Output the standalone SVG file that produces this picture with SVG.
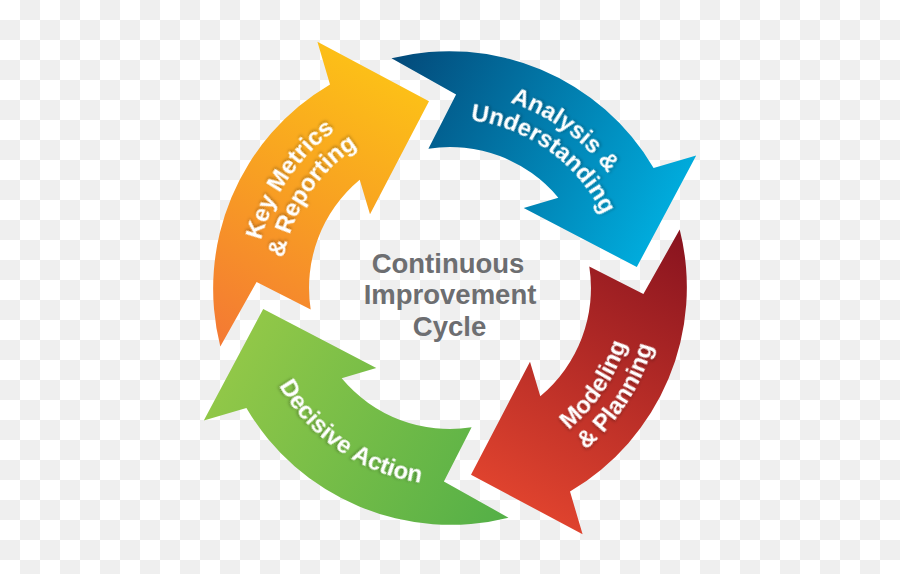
<svg xmlns="http://www.w3.org/2000/svg" xmlns:xlink="http://www.w3.org/1999/xlink" width="900" height="574" viewBox="0 0 900 574">
  <defs>
    <pattern id="checker" width="40" height="40" patternUnits="userSpaceOnUse">
      <rect width="40" height="40" fill="#ffffff"/>
      <rect x="20" y="0" width="20" height="20" fill="#efefef"/>
      <rect x="0" y="20" width="20" height="20" fill="#efefef"/>
    </pattern>
    <path id="arrow" d="M 220.3 346.5 A 237 237 0 0 1 330 84.4 L 317.4 41.8 L 429 101.2 L 370 214.3 L 359.7 179.7 A 141 141 0 0 0 310.7 309.6 L 256.6 281.9 Z"/>
    <linearGradient id="gOrange" gradientUnits="userSpaceOnUse" x1="240" y1="350" x2="400" y2="60">
      <stop offset="0" stop-color="#f47a33"/>
      <stop offset="0.5" stop-color="#f8a022"/>
      <stop offset="1" stop-color="#fdc416"/>
    </linearGradient>
    <linearGradient id="gBlue" gradientUnits="userSpaceOnUse" x1="240" y1="350" x2="400" y2="60">
      <stop offset="0" stop-color="#034b7b"/>
      <stop offset="1" stop-color="#00b2e3"/>
    </linearGradient>
    <linearGradient id="gRed" gradientUnits="userSpaceOnUse" x1="240" y1="350" x2="400" y2="60">
      <stop offset="0" stop-color="#8a141f"/>
      <stop offset="1" stop-color="#e5462f"/>
    </linearGradient>
    <linearGradient id="gGreen" gradientUnits="userSpaceOnUse" x1="240" y1="350" x2="400" y2="60">
      <stop offset="0" stop-color="#55b047"/>
      <stop offset="1" stop-color="#95c948"/>
    </linearGradient>
    <path id="cw195" d="M 516.7 104.8 A 195 195 0 0 1 516.7 471.2"/>
    <path id="cw169" d="M 507.8 129.2 A 169 169 0 0 1 507.8 446.8"/>
    <path id="ccw185" d="M 513.3 461.8 A 185 185 0 0 0 513.3 114.2"/>
    <path id="ccw211" d="M 522.2 486.3 A 211 211 0 0 0 522.2 89.7"/>
    <path id="ccw197" d="M 517.4 473.1 A 197 197 0 0 0 517.4 102.9"/>
    <filter id="shadow" x="-20%" y="-20%" width="140%" height="140%">
      <feDropShadow dx="1" dy="1.5" stdDeviation="1.8" flood-color="#000" flood-opacity="0.3"/>
    </filter>
    <style>
      .lbl { font-family: "Liberation Sans", Arial, sans-serif; font-weight: bold; font-size: 24px; fill: #ffffff; filter: url(#shadow); }
      .title { font-family: "Liberation Sans", Arial, sans-serif; font-weight: bold; font-size: 27.5px; fill: #6d6e71; text-anchor: middle; }
    </style>
  </defs>

  <rect width="900" height="574" fill="url(#checker)"/>

  <g id="key-metrics-reporting">
    <use href="#arrow" fill="url(#gOrange)"/>
    <text class="lbl" transform="rotate(214 450 288)"><textPath href="#cw195" startOffset="50%" text-anchor="middle">Key Metrics</textPath></text>
    <text class="lbl" transform="rotate(213.5 450 288)"><textPath href="#cw169" startOffset="50%" text-anchor="middle">&amp; Reporting</textPath></text>
  </g>

  <g id="analysis-understanding">
    <use href="#arrow" transform="rotate(90 450 288)" fill="url(#gBlue)"/>
    <text class="lbl" transform="rotate(306 450 288)"><textPath href="#cw195" startOffset="50%" text-anchor="middle">Analysis &amp;</textPath></text>
    <text class="lbl" transform="rotate(305.7 450 288)"><textPath href="#cw169" startOffset="50%" text-anchor="middle">Understanding</textPath></text>
  </g>

  <g id="modeling-planning">
    <use href="#arrow" transform="rotate(180 450 288)" fill="url(#gRed)"/>
    <text class="lbl" transform="rotate(33.8 450 288)"><textPath href="#ccw185" startOffset="50%" text-anchor="middle">Modeling</textPath></text>
    <text class="lbl" transform="rotate(33 450 288)"><textPath href="#ccw211" startOffset="50%" text-anchor="middle">&amp; Planning</textPath></text>
  </g>

  <g id="decisive-action">
    <use href="#arrow" transform="rotate(270 450 288)" fill="url(#gGreen)"/>
    <text class="lbl" transform="rotate(124.4 450 288)"><textPath href="#ccw197" startOffset="50%" text-anchor="middle">Decisive Action</textPath></text>
  </g>

  <g id="center-title">
    <text class="title" x="448" y="273">Continuous</text>
    <text class="title" x="450" y="304">Improvement</text>
    <text class="title" x="449.5" y="336">Cycle</text>
  </g>
</svg>
